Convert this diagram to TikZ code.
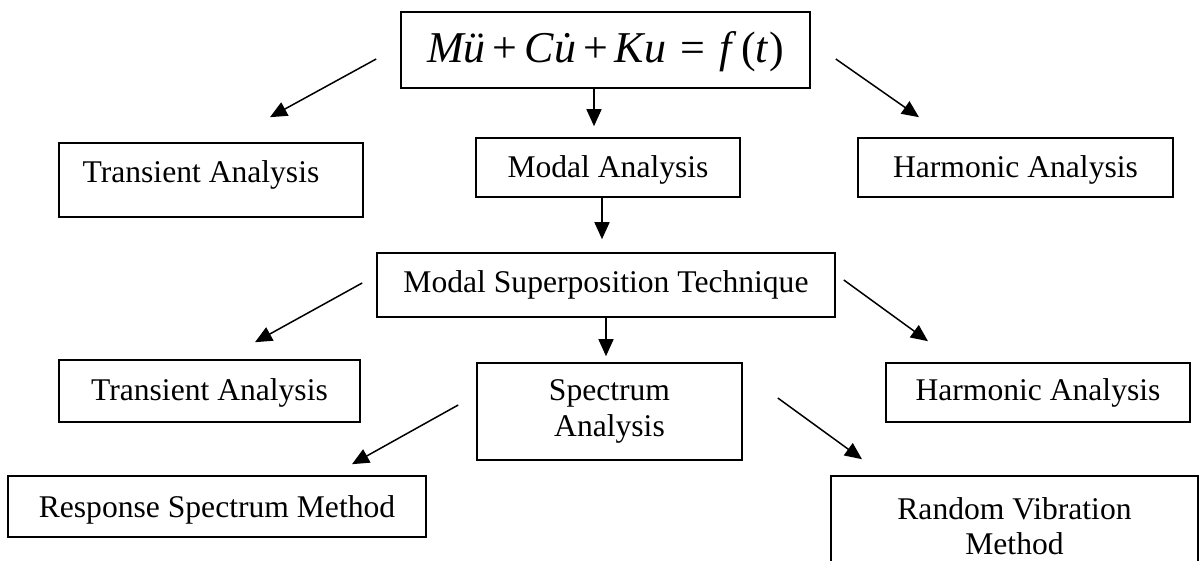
\documentclass[tikz,border=0pt]{standalone}
\usepackage{fontspec}
\setmainfont{Liberation Serif}
\usetikzlibrary{arrows.meta,calc}

\begin{document}
\begin{tikzpicture}[x=1pt,y=-1pt]
\tikzstyle{box} = [draw,line width=1.6pt,inner sep=0pt,font=\fontsize{31.6}{36}\selectfont]
\tikzstyle{arr} = [line width=1.5pt,-{Triangle[length=17pt,width=15pt]}]
\clip (0,0) rectangle (1200,561);

\node[box,minimum width=409pt,text height=51pt,text depth=25pt,font=\fontsize{44}{44}\selectfont] (eq) at (605.5,50)
  {\textit{M\"u}\hspace{7pt}+\hspace{7pt}\textit{C{\accent"02D9 u}}\hspace{7pt}+\hspace{7pt}\textit{Ku}\hspace{14pt}=\hspace{14pt}\textit{f}\hspace{5pt}(\textit{t})};

\node[box,minimum width=304pt,text height=40pt,text depth=34pt] (trans1) at (211,180) {Transient Analysis\hspace*{20pt}};
\node[box,minimum width=264pt,text height=40pt,text depth=19pt] (modal) at (608,167.5) {Modal Analysis};
\node[box,minimum width=315pt,text height=40pt,text depth=19pt] (harm1) at (1015.5,167.5) {Harmonic Analysis};
\node[box,minimum width=458pt,text height=40pt,text depth=24pt] (mst) at (606,285) {Modal Superposition Technique};
\node[box,minimum width=301pt,text height=40pt,text depth=22pt] (trans2) at (209.5,391) {Transient Analysis};
\node[box,minimum width=265pt,minimum height=97pt,align=center] (spec) at (609.5,411.5) {Spectrum\\Analysis};
\node[box,minimum width=304pt,text height=37pt,text depth=22pt] (harm2) at (1038,392.5) {Harmonic Analysis};
\node[box,minimum width=418pt,text height=41pt,text depth=20pt] (resp) at (217,506.5) {Response Spectrum Method};
\node[box,minimum width=367pt,minimum height=100pt,align=center,font=\fontsize{31.6}{35}\selectfont] (rand) at (1014.5,526) {Random Vibration\\Method};

% arrows
\draw[arr] ($(eq.west)+(-24,9)$) -- ($(trans1.north)+(59,-25)$);
\draw[arr] ($(eq.east)+(25,9)$) -- ($(harm1.north)+(-96.5,-20)$);
\draw[arr] ($(eq.south)+(-11.5,0)$) -- ($(modal.north)+(-14,-11)$);
\draw[arr] ($(modal.south)+(-6,0)$) -- ($(mst.north)+(-4,-13)$);
\draw[arr] ($(mst.west)+(-14,-2)$) -- ($(trans2.north)+(45.5,-17)$);
\draw[arr] ($(mst.east)+(8,-5)$) -- ($(harm2.north)+(-110,-21)$);
\draw[arr] (mst.south) -- ($(spec.north)+(-3.5,-6)$);
\draw[arr] ($(spec.west)+(-18,-6.5)$) -- ($(resp.north)+(135,-11)$);
\draw[arr] ($(spec.east)+(35,-13.5)$) -- ($(rand.north)+(-152.5,-16)$);
\end{tikzpicture}
\end{document}
